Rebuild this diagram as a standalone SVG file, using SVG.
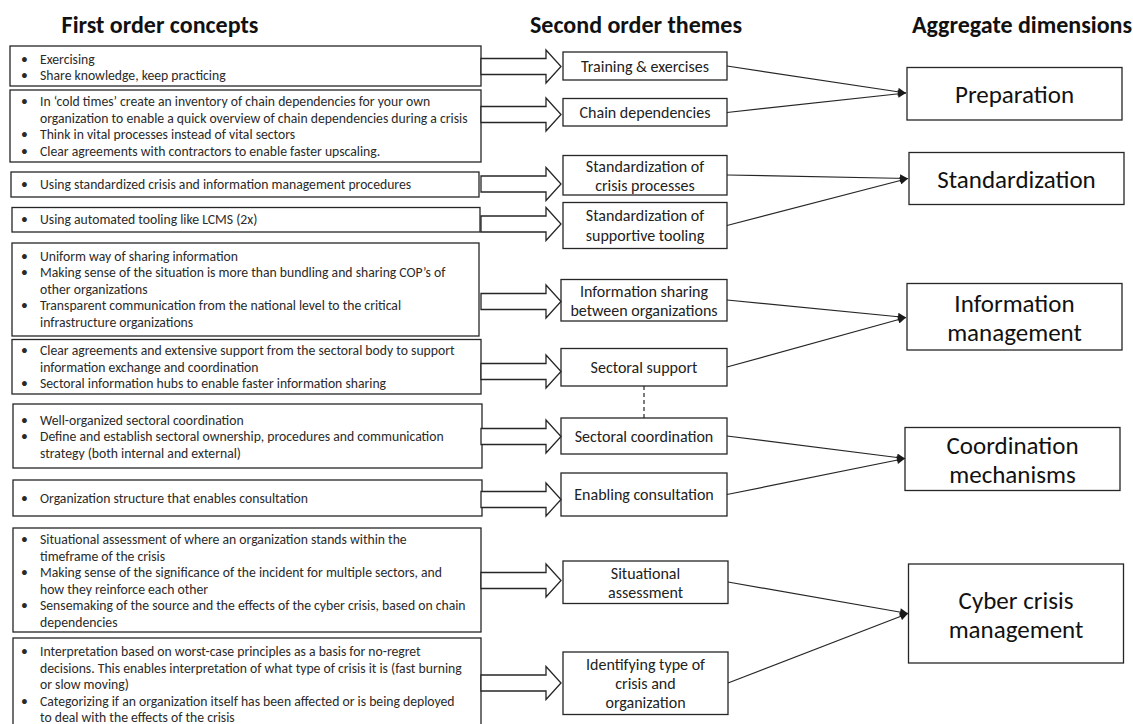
<svg xmlns="http://www.w3.org/2000/svg" xmlns:xlink="http://www.w3.org/1999/xlink" width="1133" height="724" viewBox="0 0 1133 724">
  <style>
    .box { fill: #ffffff; stroke: #262626; stroke-width: 1.3; }
    .hdr { font-family: Carlito, Lato, "Liberation Sans", sans-serif; font-weight: bold; font-size: 24px; fill: #111; text-anchor: middle; }
    .item { font-family: Carlito, Lato, "Liberation Sans", sans-serif; font-size: 13.7px; fill: #2a2a2a; }
    .theme { font-family: Carlito, Lato, "Liberation Sans", sans-serif; font-size: 16px; fill: #222; text-anchor: middle; }
    .dim { font-family: Carlito, Lato, "Liberation Sans", sans-serif; font-size: 25px; fill: #111; text-anchor: middle; }
    .blk { fill: #ffffff; stroke: #262626; stroke-width: 1.3; stroke-linejoin: miter; }
    .link { fill: none; stroke: #262626; stroke-width: 1.2; }
    .dash { fill: none; stroke: #262626; stroke-width: 1.2; stroke-dasharray: 4 3; }
  </style>
  <defs>
    <!-- hollow block arrow, centred on y = 0 -->
    <path id="blockArrow" class="blk" d="M481,-8 H546 V-16.5 L561,0 L546,16.5 V8 H481 Z"/>
    <marker id="tip" viewBox="0 0 10 10" refX="10" refY="5" markerWidth="9" markerHeight="8" markerUnits="userSpaceOnUse" orient="auto">
      <path d="M0,0 L10,5 L0,10 Z" fill="#1a1a1a"/>
    </marker>
  </defs>

  <rect width="1133" height="724" fill="#ffffff"/>

  <!-- column headings -->
  <g id="headings">
    <text class="hdr" x="160" y="33">First order concepts</text>
    <text class="hdr" x="636" y="33">Second order themes</text>
    <text class="hdr" x="1022" y="33">Aggregate dimensions</text>
  </g>

  <!-- first order concepts -->
  <g id="concept-1">
    <rect class="box" x="10" y="46" width="471" height="40"/>
    <text class="item"><tspan x="21" y="63.5">•</tspan><tspan x="40" y="63.5">Exercising</tspan>
      <tspan x="21" y="79.5">•</tspan><tspan x="40" y="79.5">Share knowledge, keep practicing</tspan></text>
  </g>
  <g id="concept-2">
    <rect class="box" x="10" y="90" width="471" height="72"/>
    <text class="item"><tspan x="21" y="106">•</tspan><tspan x="40" y="106">In ‘cold times’ create an inventory of chain dependencies for your own</tspan>
      <tspan x="40" y="122.5">organization to enable a quick overview of chain dependencies during a crisis</tspan>
      <tspan x="21" y="139">•</tspan><tspan x="40" y="139">Think in vital processes instead of vital sectors</tspan>
      <tspan x="21" y="155.5">•</tspan><tspan x="40" y="155.5">Clear agreements with contractors to enable faster upscaling.</tspan></text>
  </g>
  <g id="concept-3">
    <rect class="box" x="11" y="172" width="468" height="25"/>
    <text class="item"><tspan x="21" y="189">•</tspan><tspan x="40" y="189">Using standardized crisis and information management procedures</tspan></text>
  </g>
  <g id="concept-4">
    <rect class="box" x="12" y="207.5" width="468" height="24.5"/>
    <text class="item"><tspan x="21" y="224">•</tspan><tspan x="40" y="224">Using automated tooling like LCMS (2x)</tspan></text>
  </g>
  <g id="concept-5">
    <rect class="box" x="12" y="243" width="467" height="93"/>
    <text class="item"><tspan x="21" y="260.5">•</tspan><tspan x="40" y="260.5">Uniform way of sharing information</tspan>
      <tspan x="21" y="277">•</tspan><tspan x="40" y="277">Making sense of the situation is more than bundling and sharing COP’s of</tspan>
      <tspan x="40" y="293.5">other organizations</tspan>
      <tspan x="21" y="310">•</tspan><tspan x="40" y="310">Transparent communication from the national level to the critical</tspan>
      <tspan x="40" y="326.5">infrastructure organizations</tspan></text>
  </g>
  <g id="concept-6">
    <rect class="box" x="12" y="339.5" width="469" height="54.5"/>
    <text class="item"><tspan x="21" y="355">•</tspan><tspan x="40" y="355">Clear agreements and extensive support from the sectoral body to support</tspan>
      <tspan x="40" y="371.5">information exchange and coordination</tspan>
      <tspan x="21" y="388">•</tspan><tspan x="40" y="388">Sectoral information hubs to enable faster information sharing</tspan></text>
  </g>
  <g id="concept-7">
    <rect class="box" x="13" y="404" width="469" height="64"/>
    <text class="item"><tspan x="21" y="424.5">•</tspan><tspan x="40" y="424.5">Well-organized sectoral coordination</tspan>
      <tspan x="21" y="441">•</tspan><tspan x="40" y="441">Define and establish sectoral ownership, procedures and communication</tspan>
      <tspan x="40" y="457.5">strategy (both internal and external)</tspan></text>
  </g>
  <g id="concept-8">
    <rect class="box" x="13" y="480" width="469" height="36"/>
    <text class="item"><tspan x="21" y="502.5">•</tspan><tspan x="40" y="502.5">Organization structure that enables consultation</tspan></text>
  </g>
  <g id="concept-9">
    <rect class="box" x="13" y="528" width="468" height="104"/>
    <text class="item"><tspan x="21" y="544">•</tspan><tspan x="40" y="544">Situational assessment of where an organization stands within the</tspan>
      <tspan x="40" y="560.5">timeframe of the crisis</tspan>
      <tspan x="21" y="577">•</tspan><tspan x="40" y="577">Making sense of the significance of the incident for multiple sectors, and</tspan>
      <tspan x="40" y="593.5">how they reinforce each other</tspan>
      <tspan x="21" y="610">•</tspan><tspan x="40" y="610">Sensemaking of the source and the effects of the cyber crisis, based on chain</tspan>
      <tspan x="40" y="626.5">dependencies</tspan></text>
  </g>
  <g id="concept-10">
    <rect class="box" x="13" y="638" width="468" height="90"/>
    <text class="item"><tspan x="21" y="656">•</tspan><tspan x="40" y="656">Interpretation based on worst-case principles as a basis for no-regret</tspan>
      <tspan x="40" y="672.5">decisions. This enables interpretation of what type of crisis it is (fast burning</tspan>
      <tspan x="40" y="689">or slow moving)</tspan>
      <tspan x="21" y="705.5">•</tspan><tspan x="40" y="705.5">Categorizing if an organization itself has been affected or is being deployed</tspan>
      <tspan x="40" y="722">to deal with the effects of the crisis</tspan></text>
  </g>

  <!-- second order themes -->
  <g id="theme-training">
    <rect class="box" x="563" y="52" width="164" height="28"/>
    <text class="theme" x="645" y="71.5">Training &amp; exercises</text>
  </g>
  <g id="theme-chain">
    <rect class="box" x="563" y="98.5" width="164" height="27.5"/>
    <text class="theme" x="645" y="117.5">Chain dependencies</text>
  </g>
  <g id="theme-std-processes">
    <rect class="box" x="563" y="155.5" width="164" height="39.5"/>
    <text class="theme"><tspan x="645" y="171.5">Standardization of</tspan><tspan x="645" y="191">crisis processes</tspan></text>
  </g>
  <g id="theme-std-tooling">
    <rect class="box" x="563" y="202.5" width="164" height="46"/>
    <text class="theme"><tspan x="645" y="221">Standardization of</tspan><tspan x="645" y="240.5">supportive tooling</tspan></text>
  </g>
  <g id="theme-info-sharing">
    <rect class="box" x="561" y="279.5" width="166" height="41.5"/>
    <text class="theme"><tspan x="644" y="297">Information sharing</tspan><tspan x="644" y="316">between organizations</tspan></text>
  </g>
  <g id="theme-sectoral-support">
    <rect class="box" x="561" y="348.5" width="166" height="37.5"/>
    <text class="theme" x="644" y="373">Sectoral support</text>
  </g>
  <g id="theme-sectoral-coordination">
    <rect class="box" x="561" y="418" width="166" height="36"/>
    <text class="theme" x="644" y="442">Sectoral coordination</text>
  </g>
  <g id="theme-consultation">
    <rect class="box" x="561" y="473" width="166" height="43"/>
    <text class="theme" x="644" y="499.5">Enabling consultation</text>
  </g>
  <g id="theme-situational">
    <rect class="box" x="563" y="561" width="165" height="42.5"/>
    <text class="theme"><tspan x="645.5" y="578.5">Situational</tspan><tspan x="645.5" y="598">assessment</tspan></text>
  </g>
  <g id="theme-crisis-type">
    <rect class="box" x="563" y="652" width="165" height="62.5"/>
    <text class="theme"><tspan x="645.5" y="669.5">Identifying type of</tspan><tspan x="645.5" y="688.5">crisis and</tspan><tspan x="645.5" y="708">organization</tspan></text>
  </g>

  <!-- aggregate dimensions -->
  <g id="dim-preparation">
    <rect class="box" x="907" y="67.5" width="215" height="52.5"/>
    <text class="dim" x="1014.5" y="103">Preparation</text>
  </g>
  <g id="dim-standardization">
    <rect class="box" x="909" y="152.5" width="215" height="52"/>
    <text class="dim" x="1016.5" y="187.5">Standardization</text>
  </g>
  <g id="dim-information">
    <rect class="box" x="907" y="283.5" width="215" height="66.5"/>
    <text class="dim"><tspan x="1014.5" y="312">Information</tspan><tspan x="1014.5" y="341">management</tspan></text>
  </g>
  <g id="dim-coordination">
    <rect class="box" x="905" y="427.5" width="215" height="63"/>
    <text class="dim"><tspan x="1012.5" y="454">Coordination</tspan><tspan x="1012.5" y="483">mechanisms</tspan></text>
  </g>
  <g id="dim-cyber">
    <rect class="box" x="908.5" y="564" width="215" height="99"/>
    <text class="dim"><tspan x="1016" y="609">Cyber crisis</tspan><tspan x="1016" y="638">management</tspan></text>
  </g>

  <!-- connectors -->
  <g id="connectors">
    <use xlink:href="#blockArrow" y="66.5"/>
    <use xlink:href="#blockArrow" y="114.5"/>
    <use xlink:href="#blockArrow" y="184"/>
    <use xlink:href="#blockArrow" y="224"/>
    <use xlink:href="#blockArrow" y="301.5"/>
    <use xlink:href="#blockArrow" y="371.5"/>
    <use xlink:href="#blockArrow" y="436.5"/>
    <use xlink:href="#blockArrow" y="499.5"/>
    <use xlink:href="#blockArrow" y="580.5"/>
    <use xlink:href="#blockArrow" y="683"/>

    <line class="link" x1="727" y1="66" x2="906" y2="93" marker-end="url(#tip)"/>
    <line class="link" x1="727" y1="112.5" x2="906" y2="93" marker-end="url(#tip)"/>
    <line class="link" x1="727" y1="175" x2="908" y2="178.5" marker-end="url(#tip)"/>
    <line class="link" x1="727" y1="225.5" x2="908" y2="178.5" marker-end="url(#tip)"/>
    <line class="link" x1="727" y1="300" x2="906" y2="317.5" marker-end="url(#tip)"/>
    <line class="link" x1="727" y1="367" x2="906" y2="317.5" marker-end="url(#tip)"/>
    <line class="link" x1="727" y1="436" x2="905" y2="458.5" marker-end="url(#tip)"/>
    <line class="link" x1="727" y1="494.5" x2="905" y2="458.5" marker-end="url(#tip)"/>
    <line class="link" x1="728" y1="582" x2="908" y2="613.5" marker-end="url(#tip)"/>
    <line class="link" x1="728" y1="683" x2="908" y2="613.5" marker-end="url(#tip)"/>

    <line class="dash" x1="644" y1="386" x2="644" y2="418"/>
  </g>
</svg>
